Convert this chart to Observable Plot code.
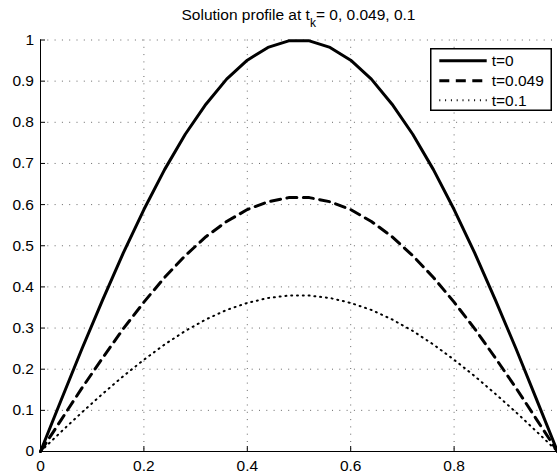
<!DOCTYPE html>
<html><head><meta charset="utf-8">
<script src="https://cdn.jsdelivr.net/npm/d3@7"></script>
<script src="https://cdn.jsdelivr.net/npm/@observablehq/plot@0.6"></script>
<style>
body{margin:0;background:#fff;overflow:hidden;font-family:"Liberation Sans",Arial,Helvetica,sans-serif;}
#wrap{position:relative;width:557px;height:473px;overflow:hidden;}
#title{position:absolute;left:40px;width:517px;top:7px;text-align:center;font-size:15.5px;line-height:15.5px;white-space:nowrap;color:#000;}
#title .sub{font-size:12px;position:relative;top:7px;}
#legend{position:absolute;left:430px;top:48px;}
</style></head><body>
<div id="wrap"><div id="chart"></div><div id="title">Solution profile at t<span class="sub">k</span>= 0, 0.049, 0.1</div><div id="legend"></div></div>
<script>
const xs = [0, 0.04, 0.08, 0.12, 0.16, 0.2, 0.24, 0.28, 0.32, 0.36, 0.4, 0.44, 0.48,
            0.52, 0.56, 0.6, 0.64, 0.68, 0.72, 0.76, 0.8, 0.84, 0.88, 0.92, 0.96, 1];
const seriesNames = ["t=0", "t=0.049", "t=0.1"];
const uT0 = [0, 0.125, 0.249, 0.368, 0.482, 0.588, 0.685, 0.771, 0.844, 0.905, 0.951, 0.982, 0.998,
             0.998, 0.982, 0.951, 0.905, 0.844, 0.771, 0.685, 0.588, 0.482, 0.368, 0.249, 0.125, 0];
const uT049 = [0, 0.077, 0.154, 0.227, 0.298, 0.363, 0.423, 0.476, 0.522, 0.559, 0.588, 0.607, 0.617,
               0.617, 0.607, 0.588, 0.559, 0.522, 0.476, 0.423, 0.363, 0.298, 0.227, 0.154, 0.077, 0];
const uT01 = [0, 0.048, 0.095, 0.140, 0.183, 0.223, 0.260, 0.293, 0.321, 0.344, 0.361, 0.373, 0.379,
              0.379, 0.373, 0.361, 0.344, 0.321, 0.293, 0.260, 0.223, 0.183, 0.140, 0.095, 0.048, 0];
const xTicks = [0, 0.2, 0.4, 0.6, 0.8, 1];
const xTickLabels = ["0", "0.2", "0.4", "0.6", "0.8"];
const yTicks = [0, 0.1, 0.2, 0.3, 0.4, 0.5, 0.6, 0.7, 0.8, 0.9, 1];
const yTickLabels = ["0", "0.1", "0.2", "0.3", "0.4", "0.5", "0.6", "0.7", "0.8", "0.9", "1"];

const styles = [
  {strokeWidth: 3, dash: null},
  {strokeWidth: 3, dash: "10,6.5"},
  {strokeWidth: 2, dash: "1,4.8"}
];
const seriesValues = [uT0, uT049, uT01];
const series = seriesNames.map((name, i) => xs.map((x, j) => ({x, y: seriesValues[i][j], name})));

const W = 557, H = 473, mL = 40, mR = 0, mT = 39.5, mB = 22;
const innerW = W - mL - mR, innerH = H - mT - mB;
const FONT = '"Liberation Sans", Arial, Helvetica, sans-serif';

const chart = Plot.plot({
  width: W, height: H,
  marginLeft: mL, marginRight: mR, marginTop: mT, marginBottom: mB,
  style: {fontFamily: FONT, fontSize: "15.5px", color: "#000", background: "#fff"},
  x: {domain: [0, 1]},
  y: {domain: [0, 1]},
  marks: [
    Plot.gridX(xTicks.slice(1), {stroke: "#000", strokeOpacity: 0.6, strokeWidth: 1, strokeDasharray: "1,6.3"}),
    Plot.gridY(yTicks.slice(1), {stroke: "#000", strokeOpacity: 0.6, strokeWidth: 1, strokeDasharray: "1,6.3"}),
    ...series.map((d, i) => Plot.line(d, {x: "x", y: "y", stroke: "#000",
      strokeWidth: styles[i].strokeWidth, strokeDasharray: styles[i].dash, strokeLinejoin: "round"})),
    Plot.tickX(xTicks, {x: d => d, stroke: "#000", strokeWidth: 1, insetTop: innerH - 5}),
    Plot.tickY(yTicks, {y: d => d, stroke: "#000", strokeWidth: 1, insetRight: innerW - 5}),
    Plot.ruleX([0], {stroke: "#000", strokeWidth: 1}),
    Plot.ruleY([0], {stroke: "#000", strokeWidth: 1}),
    Plot.axisX(xTicks.slice(0, xTickLabels.length), {tickSize: 0, tickPadding: 8, label: null, fontSize: 15.5,
      tickFormat: d => xTickLabels[xTicks.indexOf(d)]}),
    Plot.axisY(yTicks, {tickSize: 0, tickPadding: 6.5, label: null, fontSize: 15.5,
      tickFormat: d => yTickLabels[yTicks.indexOf(d)]})
  ]
});
document.getElementById("chart").append(chart);

// legend
const lw = 122, lh = 63;
const rowsY = [12.7, 32.7, 52.3];
let svg = `<svg width="${lw}" height="${lh}" xmlns="http://www.w3.org/2000/svg" style="display:block">
<rect x="0.75" y="0.75" width="${lw - 1.5}" height="${lh - 1.5}" fill="#fff" stroke="#000" stroke-width="1.5"/>`;
seriesNames.forEach((name, i) => {
  const y = rowsY[i];
  svg += `<line x1="9.3" x2="56.7" y1="${y}" y2="${y}" stroke="#000" stroke-width="${styles[i].strokeWidth}" ${styles[i].dash ? `stroke-dasharray="${styles[i].dash}"` : ""}/>`;
  svg += `<text x="61.7" y="${y}" dy="0.35em" font-family='${FONT}' font-size="15.5" fill="#000">${name}</text>`;
});
svg += `</svg>`;
document.getElementById("legend").innerHTML = svg;
</script>
</body></html>
